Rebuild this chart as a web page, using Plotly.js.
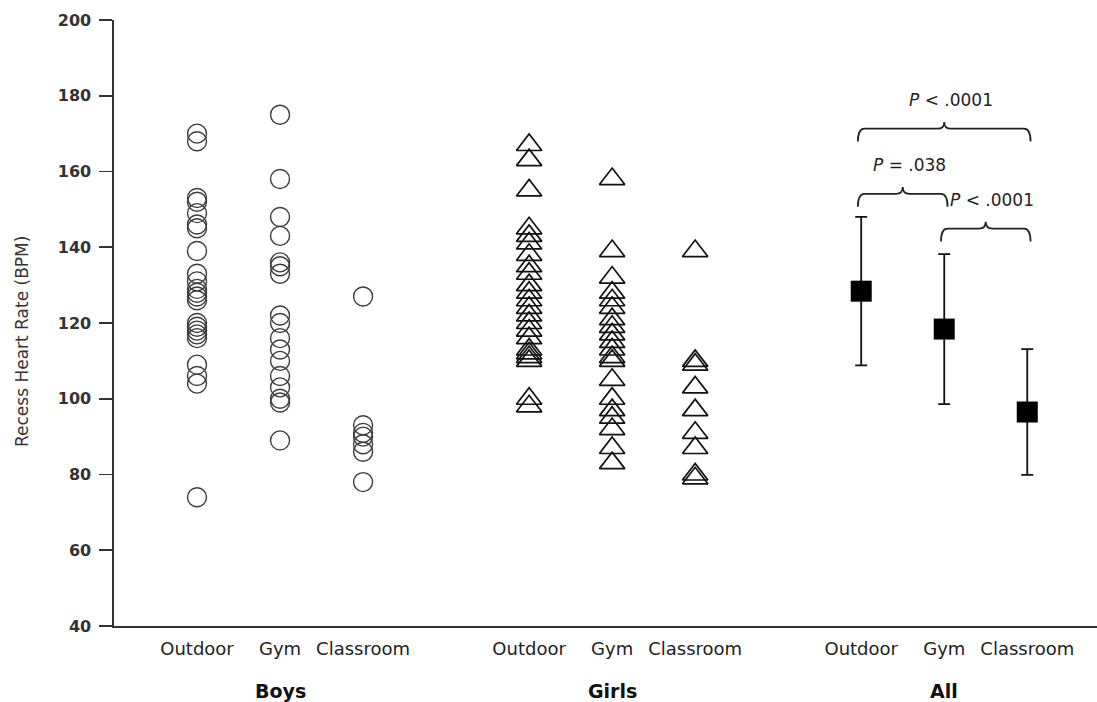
<!DOCTYPE html>
<html>
<head>
<meta charset="utf-8">
<script src="https://cdn.plot.ly/plotly-3.0.1.min.js"></script>
<style>html,body{margin:0;padding:0;background:#fff;}#chart{width:1097px;height:702px;}</style>
</head>
<body>
<div id="chart"></div>
<script>
// ---- data ----
const settings = ['Outdoor', 'Gym', 'Classroom'];
const groups = ['Boys', 'Girls', 'All'];
const groupPos = [[1, 2, 3], [5, 6, 7], [9, 10, 11]];

const boysOutdoor = [170, 168, 153, 152, 149, 146, 145, 139, 133, 131, 129, 128, 127, 126, 120, 119, 118, 117, 116, 109, 106, 104, 74];
const boysGym = [175, 158, 148, 143, 136, 135, 133, 122, 120, 116, 113, 110, 106, 103, 100, 99, 89];
const boysClassroom = [127, 93, 91, 90, 88, 86, 78];

const girlsOutdoor = [167, 163, 155, 145, 143, 141, 138, 135, 133, 130, 128, 126, 124, 122, 120, 118, 116, 113, 112, 111, 110, 100, 98];
const girlsGym = [158, 139, 132, 128, 126, 124, 121, 119, 117, 115, 113, 111, 110, 105, 100, 97, 95, 92, 87, 83];
const girlsClassroom = [139, 110, 109, 103, 97, 91, 87, 80, 79];

const allMean = [128.4, 118.4, 96.5];
const allSD = [19.6, 19.8, 16.6];

const cmpPairs = [[0, 2], [0, 1], [1, 2]];
const cmpLevels = [171.3, 154.1, 144.9];
const cmpLabels = ['<i>P</i> < .0001', '<i>P</i> = .038', '<i>P</i> < .0001'];

const yTicks = [40, 60, 80, 100, 120, 140, 160, 180, 200];

// ---- build ----
function rep(v, n) { return Array(n).fill(v); }
const traces = [];
const boys = [boysOutdoor, boysGym, boysClassroom];
const girls = [girlsOutdoor, girlsGym, girlsClassroom];

boys.forEach((arr, i) => traces.push({
  type: 'scatter', mode: 'markers', x: rep(groupPos[0][i], arr.length), y: arr,
  marker: {symbol: 'circle-open', size: 19, color: '#3c3c3c', line: {width: 1.4, color: '#3c3c3c'}},
  showlegend: false, hoverinfo: 'y'
}));
girls.forEach((arr, i) => traces.push({
  type: 'scatter', mode: 'markers', x: rep(groupPos[1][i], arr.length), y: arr,
  marker: {symbol: 'triangle-up-open', size: 22, color: '#111', line: {width: 1.7, color: '#111'}},
  showlegend: false, hoverinfo: 'y'
}));
traces.push({
  type: 'scatter', mode: 'markers', x: groupPos[2], y: allMean,
  error_y: {type: 'data', array: allSD, visible: true, color: '#111', thickness: 1.8, width: 6},
  marker: {symbol: 'square', size: 21, color: '#000'},
  showlegend: false, hoverinfo: 'y'
});

const shapes = [];
const annotations = [];
const drop = 3.4, rise = 1.8, d = 0.08, pad = 0.04;
cmpPairs.forEach((p, k) => {
  const x0 = groupPos[2][p[0]] - pad, x1 = groupPos[2][p[1]] + pad, xc = (x0 + x1) / 2;
  const yl = cmpLevels[k];
  const path = `M${x0},${yl - drop} Q${x0},${yl} ${x0 + d},${yl} L${xc - d},${yl} Q${xc},${yl} ${xc},${yl + rise} Q${xc},${yl} ${xc + d},${yl} L${x1 - d},${yl} Q${x1},${yl} ${x1},${yl - drop}`;
  shapes.push({type: 'path', xref: 'x', yref: 'y', path: path, line: {color: '#222', width: 1.8}});
  annotations.push({xref: 'x', yref: 'y', x: xc + 0.08, y: yl + 7.7, text: cmpLabels[k], showarrow: false,
    xanchor: 'center', yanchor: 'middle', font: {family: 'DejaVu Sans', size: 17, color: '#222'}});
});
groups.forEach((g, i) => annotations.push({
  xref: 'x', yref: 'paper', x: groupPos[i][1], y: -0.107, text: '<b>' + g + '</b>', showarrow: false,
  xanchor: 'center', yanchor: 'middle', font: {family: 'DejaVu Sans', size: 19, color: '#111'}
}));
annotations.push({
  xref: 'paper', yref: 'paper', x: 0, xshift: -92, y: 0.4686, text: 'Recess Heart Rate (BPM)', textangle: -90,
  showarrow: false, xanchor: 'center', yanchor: 'middle', font: {family: 'DejaVu Sans', size: 17, color: '#333'}
});

const layout = {
  width: 1097, height: 702,
  margin: {l: 114, r: 0, t: 20, b: 76},
  paper_bgcolor: '#fff', plot_bgcolor: '#fff',
  xaxis: {
    range: [0, 11.84], showgrid: false, zeroline: false, showline: true, linecolor: '#333', linewidth: 1.6,
    tickvals: [].concat(...groupPos), ticktext: [].concat(settings, settings, settings), ticks: '',
    ticklabelstandoff: 6,
    tickfont: {family: 'DejaVu Sans', size: 18, color: '#222'}, fixedrange: true
  },
  yaxis: {
    range: [40, 200], showgrid: false, zeroline: false, showline: true, linecolor: '#333', linewidth: 1.6,
    tickvals: yTicks, ticks: 'outside', ticklen: 13, tickwidth: 1.6, tickcolor: '#333',
    ticklabelstandoff: 5,
    tickfont: {family: 'DejaVu Sans', size: 16, color: '#333', weight: 'bold'}, fixedrange: true
  },
  shapes: shapes,
  annotations: annotations,
  showlegend: false
};

Plotly.newPlot('chart', traces, layout, {displayModeBar: false, staticPlot: true});
</script>
</body>
</html>
